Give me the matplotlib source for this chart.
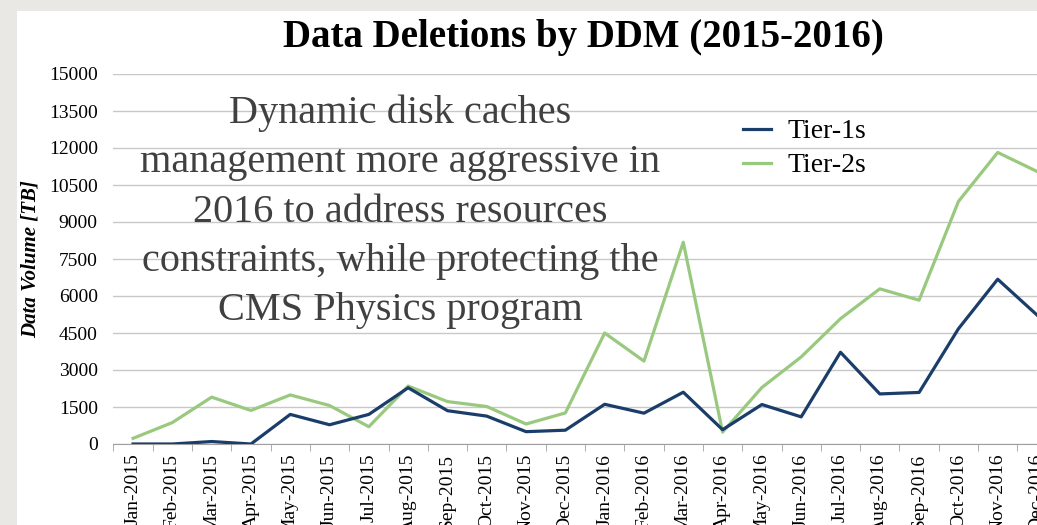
"""
Data Deletions by DDM (2015-2016)
"""

import numpy as np
import matplotlib.pyplot as plt
from matplotlib.patches import Rectangle

months = ['Jan-2015', 'Feb-2015', 'Mar-2015', 'Apr-2015', 'May-2015', 'Jun-2015',
          'Jul-2015', 'Aug-2015', 'Sep-2015', 'Oct-2015', 'Nov-2015', 'Dec-2015',
          'Jan-2016', 'Feb-2016', 'Mar-2016', 'Apr-2016', 'May-2016', 'Jun-2016',
          'Jul-2016', 'Aug-2016', 'Sep-2016', 'Oct-2016', 'Nov-2016', 'Dec-2016']

tier1 = [0, 0, 100, 0, 1200, 780, 1200, 2280, 1350, 1130, 500, 560,
         1610, 1250, 2100, 580, 1600, 1100, 3720, 2030, 2090, 4670, 6680, 5230]
tier2 = [230, 870, 1900, 1360, 1990, 1560, 700, 2350, 1720, 1520, 810, 1260,
         4500, 3360, 8180, 480, 2290, 3530, 5080, 6290, 5830, 9830, 11820, 11050]

yticks = np.arange(0, 15001, 1500)

serif = 'Liberation Serif'

fig = plt.figure(figsize=(10.37, 5.25), dpi=100)
fig.patch.set_facecolor('#e9e8e5')
# white slide area
fig.add_artist(Rectangle((17 / 1037, 0), 1, 1 - 11 / 525, transform=fig.transFigure,
                         facecolor='white', edgecolor='none', zorder=0))

ax = fig.add_axes([113 / 1037, 81 / 525, 924 / 1037, 370 / 525])
ax.set_facecolor('none')

x = np.arange(len(months))
ax.plot(x, tier1, color='#1b3d69', lw=2.3, label='Tier-1s', zorder=3)
ax.plot(x, tier2, color='#99c97f', lw=2.3, label='Tier-2s', zorder=2)

ax.set_yticks(yticks)
ax.set_yticklabels([str(v) for v in yticks], fontfamily=serif, fontsize=14)
ax.set_xticks(x)
ax.set_xticklabels(months, rotation=90, fontfamily=serif, fontsize=14)
ax.set_xticks(np.arange(-0.5, 23.6, 1), minor=True)
ax.tick_params(axis='x', which='major', length=0, pad=7)
ax.tick_params(axis='x', which='minor', length=5, color='#a0a0a0')
ax.tick_params(axis='y', length=0, pad=11)
# limits after the ticks, so the minor ticks don't widen them
ax.set_xlim(-0.51, 23.0)
ax.set_ylim(0, 15000)

ax.grid(axis='y', color='#c8c8c8', lw=1)
ax.set_axisbelow(True)
for s in ['top', 'right', 'left']:
    ax.spines[s].set_visible(False)
ax.spines['bottom'].set_color('#a0a0a0')

ax.set_ylabel('Data Volume [TB]', fontfamily=serif, fontsize=15, fontweight='bold',
              fontstyle='italic', labelpad=6)

fig.text(583 / 1037, 1 - 37 / 525, 'Data Deletions by DDM (2015-2016)', ha='center',
         va='center', fontfamily=serif, fontsize=28, fontweight='bold')

ax.legend(loc='upper left', bbox_to_anchor=(743 / 1037, 1 - 119 / 525),
          bbox_transform=fig.transFigure, frameon=False, borderpad=0, borderaxespad=0,
          prop={'family': serif, 'size': 20}, handlelength=1.0, handletextpad=0.6,
          labelspacing=0.3)

note = ('Dynamic disk caches\nmanagement more aggressive in\n2016 to address resources\n'
        'constraints, while protecting the\nCMS Physics program')
fig.text(400 / 1037, 1 - 212 / 525, note, ha='center', va='center', color='#404040',
         fontfamily=serif, fontsize=29, linespacing=1.44)

plt.savefig('out.png', dpi=100)
